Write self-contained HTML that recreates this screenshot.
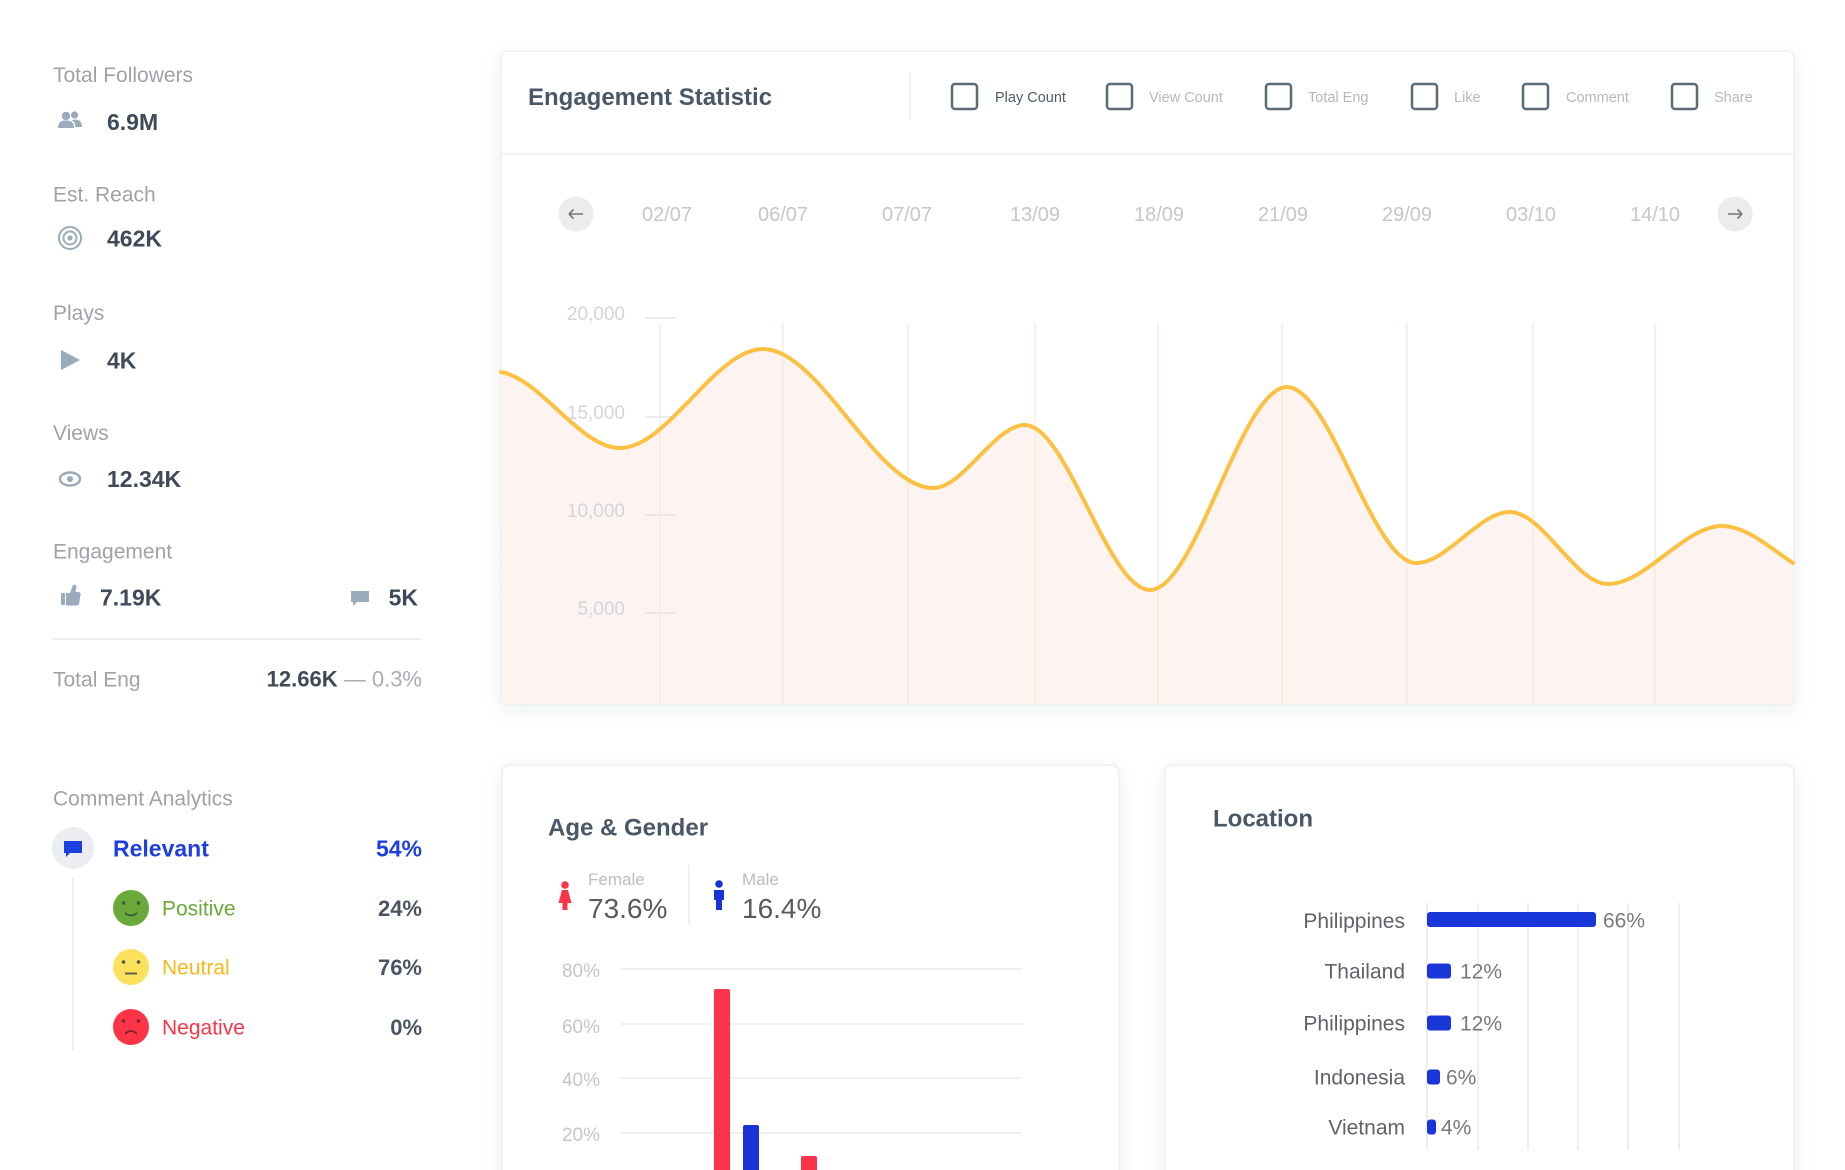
<!DOCTYPE html>
<html><head><meta charset="utf-8"><style>
html,body{margin:0;padding:0;background:#fff;width:1845px;height:1170px;overflow:hidden;}
svg{display:block;overflow:hidden;}
text{font-family:"Liberation Sans",Arial,sans-serif;}
</style></head><body>
<svg width="1845" height="1170" viewBox="0 0 1845 1170" xmlns="http://www.w3.org/2000/svg">
<defs>
<filter id="sh" x="-5%" y="-5%" width="110%" height="115%">
<feDropShadow dx="0" dy="5" stdDeviation="9" flood-color="#1e3246" flood-opacity="0.07"/>
</filter>
<clipPath id="frame"><rect x="0" y="0" width="1845" height="1170"/></clipPath>
</defs>
<g clip-path="url(#frame)">
<rect width="1845" height="1170" fill="#fff"/>

<!-- LEFT PANEL -->
<g fill="#9ea3a8" font-size="21">
<text x="53" y="82">Total Followers</text>
<text x="53" y="201.5">Est. Reach</text>
<text x="53" y="320">Plays</text>
<text x="53" y="440">Views</text>
<text x="53" y="558.5">Engagement</text>
<text x="53" y="686.5">Total Eng</text>
<text x="53" y="805.5">Comment Analytics</text>
</g>
<g fill="#3f4a59" font-size="23" font-weight="bold">
<text x="107" y="130">6.9M</text>
<text x="107" y="246.3">462K</text>
<text x="107" y="368.3">4K</text>
<text x="107" y="487">12.34K</text>
<text x="100" y="605.3">7.19K</text>
<text x="418" y="605.3" text-anchor="end">5K</text>
</g>
<!-- icons -->
<g fill="#9aabbd">
<circle cx="66" cy="116" r="4.2"/><circle cx="74.5" cy="115" r="3.6"/>
<path d="M58 128 Q58 120 66 120.5 Q74 120 74 128 Z"/>
<path d="M75 127 L82 127 Q82 120 75.5 119.5 Q73 119.6 72 120.5 Q76 122.5 75 127 Z"/>
<polygon points="61,350 80,360 61,370"/>
<circle cx="70" cy="479" r="3"/>
<rect x="61" y="593" width="4" height="12" rx="1"/>
<path d="M66 593 L70 593 L73 585 Q76 584 76.5 587 L75.5 592 L79 592 Q81 593 80.5 595 L79 604 Q78.5 605.5 77 605.5 L66 605.5 Z"/>
<path d="M351 591 L369 591 L369 602 L357 602 L353 606 L353 602 L351 602 Z"/>
</g>
<g fill="none" stroke="#9aabbd" stroke-width="2">
<circle cx="70" cy="238" r="11"/><circle cx="70" cy="238" r="6.5"/>
<ellipse cx="70" cy="479" rx="10" ry="6.5" stroke-width="2.4"/>
</g>
<circle cx="70" cy="238" r="2.6" fill="#9aabbd"/>
<line x1="52" y1="639" x2="421" y2="639" stroke="#e5e8eb" stroke-width="1.5"/>
<text x="422" y="686.5" text-anchor="end" font-size="22"><tspan font-weight="bold" fill="#3f4a59">12.66K</tspan><tspan fill="#a9adb2"> — 0.3%</tspan></text>

<!-- comment analytics -->
<circle cx="73" cy="848" r="21" fill="#ebedf0"/>
<path d="M64 841 L82 841 L82 853 L70 853 L66 857 L66 853 L64 853 Z" fill="#1d3fe0"/>
<text x="113" y="856.3" font-size="23" font-weight="bold" fill="#1d3fe0">Relevant</text>
<text x="422" y="856.3" font-size="23" font-weight="bold" fill="#1d3fe0" text-anchor="end">54%</text>
<line x1="73" y1="878" x2="73" y2="1050" stroke="#e6e8eb" stroke-width="1.5"/>

<circle cx="131" cy="908" r="18" fill="#6aaa3a"/>
<circle cx="123.5" cy="903" r="1.8" fill="#3f5a3a"/><circle cx="138.5" cy="903" r="1.8" fill="#3f5a3a"/>
<path d="M125 913 Q131 918 137 913" fill="none" stroke="#3f5a3a" stroke-width="1.8"/>
<text x="162" y="915.5" font-size="21" fill="#6aaa3a">Positive</text>
<text x="422" y="916" font-size="22" font-weight="bold" fill="#4a5563" text-anchor="end">24%</text>

<circle cx="131" cy="967" r="18" fill="#fbe15c"/>
<circle cx="123.5" cy="962" r="1.8" fill="#555"/><circle cx="138.5" cy="962" r="1.8" fill="#555"/>
<line x1="125" y1="973.5" x2="137" y2="973.5" stroke="#555" stroke-width="1.8"/>
<text x="162" y="974.5" font-size="21" fill="#f8b818">Neutral</text>
<text x="422" y="975" font-size="22" font-weight="bold" fill="#4a5563" text-anchor="end">76%</text>

<circle cx="131" cy="1027" r="18" fill="#fd3448"/>
<circle cx="123.5" cy="1021" r="1.8" fill="#7a2630"/><circle cx="138.5" cy="1021" r="1.8" fill="#7a2630"/>
<path d="M125 1034 Q131 1028 137 1034" fill="none" stroke="#7a2630" stroke-width="1.8"/>
<text x="162" y="1034.5" font-size="21" fill="#fd3448">Negative</text>
<text x="422" y="1035" font-size="22" font-weight="bold" fill="#4a5563" text-anchor="end">0%</text>

<!-- ENGAGEMENT CARD -->
<rect x="501" y="51" width="1293" height="654" rx="7" fill="#fff" stroke="#eceef1" stroke-width="1.5" filter="url(#sh)"/>
<text x="528" y="105" font-size="24" font-weight="bold" fill="#4a5766">Engagement Statistic</text>
<line x1="910" y1="73" x2="910" y2="119" stroke="#e8eaed" stroke-width="1.5"/>
<g fill="none" stroke="#5d6b79" stroke-width="2.5">
<rect x="952" y="84" width="25" height="25" rx="3"/>
<rect x="1107" y="84" width="25" height="25" rx="3"/>
<rect x="1266" y="84" width="25" height="25" rx="3"/>
<rect x="1412" y="84" width="25" height="25" rx="3"/>
<rect x="1523" y="84" width="25" height="25" rx="3"/>
<rect x="1672" y="84" width="25" height="25" rx="3"/>
</g>
<g font-size="14.5" fill="#b5b9be">
<text x="995" y="102" fill="#4f5b67">Play Count</text>
<text x="1149" y="102">View Count</text>
<text x="1308" y="102">Total Eng</text>
<text x="1454" y="102">Like</text>
<text x="1566" y="102">Comment</text>
<text x="1714" y="102">Share</text>
</g>
<line x1="502" y1="154" x2="1793" y2="154" stroke="#edeff1" stroke-width="1.5"/>

<circle cx="576" cy="214" r="17.5" fill="#ececee"/>
<circle cx="1735" cy="214" r="17.5" fill="#ececee"/>
<g stroke="#777" stroke-width="1.6" fill="none">
<path d="M569 214 L583 214 M569 214 L573.5 209.5 M569 214 L573.5 218.5"/>
<path d="M1728 214 L1742 214 M1742 214 L1737.5 209.5 M1742 214 L1737.5 218.5"/>
</g>
<g font-size="20" fill="#c3c7cc" text-anchor="middle">
<text x="667" y="221">02/07</text>
<text x="783" y="221">06/07</text>
<text x="907" y="221">07/07</text>
<text x="1035" y="221">13/09</text>
<text x="1159" y="221">18/09</text>
<text x="1283" y="221">21/09</text>
<text x="1407" y="221">29/09</text>
<text x="1531" y="221">03/10</text>
<text x="1655" y="221">14/10</text>
</g>

<!-- area -->
<path d="M501 372 C541 379 580 448 620 448 C667.7 448 715.3 349 763 349 C819.7 349 876.3 488 933 488 C963.7 488 994.3 425 1025 425 C1066.7 425 1108.3 590 1150 590 C1195.7 590 1241.3 387 1287 387 C1330 387 1373 563 1416 563 C1447.3 563 1478.7 512 1510 512 C1542.7 512 1575.3 584 1608 584 C1646 584 1684 526 1722 526 C1746 526 1769 547 1793 563 L1793 704 L502 704 Z" fill="#fdf4f2"/>
<g stroke="#fbe4d9" stroke-width="1.2">
<line x1="660" y1="323" x2="660" y2="704"/>
<line x1="783" y1="323" x2="783" y2="704"/>
<line x1="908" y1="323" x2="908" y2="704"/>
<line x1="1035" y1="323" x2="1035" y2="704"/>
<line x1="1158" y1="323" x2="1158" y2="704"/>
<line x1="1282" y1="323" x2="1282" y2="704"/>
<line x1="1407" y1="323" x2="1407" y2="704"/>
<line x1="1533" y1="323" x2="1533" y2="704"/>
<line x1="1655" y1="323" x2="1655" y2="704"/>
</g>
<g font-size="19" fill="#d3d5d8" text-anchor="end">
<text x="625" y="320">20,000</text>
<text x="625" y="419">15,000</text>
<text x="625" y="517">10,000</text>
<text x="625" y="615">5,000</text>
</g>
<g stroke="#e4e5e8" stroke-width="1.5">
<line x1="645" y1="318" x2="676" y2="318"/>
<line x1="645" y1="417" x2="676" y2="417"/>
<line x1="645" y1="515" x2="676" y2="515"/>
<line x1="645" y1="613" x2="676" y2="613"/>
</g>
<path d="M501 372 C541 379 580 448 620 448 C667.7 448 715.3 349 763 349 C819.7 349 876.3 488 933 488 C963.7 488 994.3 425 1025 425 C1066.7 425 1108.3 590 1150 590 C1195.7 590 1241.3 387 1287 387 C1330 387 1373 563 1416 563 C1447.3 563 1478.7 512 1510 512 C1542.7 512 1575.3 584 1608 584 C1646 584 1684 526 1722 526 C1746 526 1769 547 1793 563" fill="none" stroke="#fcc043" stroke-width="4" stroke-linecap="round"/>

<!-- AGE & GENDER CARD -->
<rect x="502" y="765" width="617" height="420" rx="7" fill="#fff" stroke="#eceef1" stroke-width="1.5" filter="url(#sh)"/>
<text x="548" y="835.6" font-size="24" font-weight="bold" fill="#4a5766">Age &amp; Gender</text>
<g fill="#fd3448">
<circle cx="565" cy="885" r="3.8"/>
<path d="M562 890 L568 890 L571.5 903 L567.5 903 L567.5 910 L562.5 910 L562.5 903 L558.5 903 Z"/>
</g>
<g fill="#1933d4">
<circle cx="719" cy="884" r="3.8"/>
<path d="M714 890 L724 890 L724 900 L722 900 L722 910 L716 910 L716 900 L714 900 Z"/>
</g>
<text x="588" y="885" font-size="17" fill="#b9bdc2">Female</text>
<text x="588" y="918" font-size="28" fill="#5a5a5a">73.6%</text>
<line x1="689" y1="865" x2="689" y2="925" stroke="#e8eaed" stroke-width="1.5"/>
<text x="742" y="885" font-size="17" fill="#b9bdc2">Male</text>
<text x="742" y="918" font-size="28" fill="#5a5a5a">16.4%</text>
<g font-size="19" fill="#c3c6ca" text-anchor="end">
<text x="600" y="977">80%</text>
<text x="600" y="1033">60%</text>
<text x="600" y="1086">40%</text>
<text x="600" y="1141">20%</text>
</g>
<g stroke="#ebebeb" stroke-width="1.5">
<line x1="621" y1="969" x2="1022" y2="969"/>
<line x1="621" y1="1024" x2="1022" y2="1024"/>
<line x1="621" y1="1078" x2="1022" y2="1078"/>
<line x1="621" y1="1133" x2="1022" y2="1133"/>
</g>
<rect x="714" y="989" width="16" height="190" rx="2" fill="#fd3349"/>
<rect x="743" y="1125" width="16" height="54" rx="2" fill="#1933d4"/>
<rect x="801" y="1156" width="16" height="23" rx="2" fill="#fd3349"/>

<!-- LOCATION CARD -->
<rect x="1165" y="765" width="629" height="420" rx="7" fill="#fff" stroke="#eceef1" stroke-width="1.5" filter="url(#sh)"/>
<text x="1213" y="826.6" font-size="24" font-weight="bold" fill="#4a5766">Location</text>
<g stroke="#e8e8e8" stroke-width="1.5">
<line x1="1427" y1="903" x2="1427" y2="1150"/>
<line x1="1478" y1="903" x2="1478" y2="1150"/>
<line x1="1528" y1="903" x2="1528" y2="1150"/>
<line x1="1578" y1="903" x2="1578" y2="1150"/>
<line x1="1628" y1="903" x2="1628" y2="1150"/>
<line x1="1679" y1="903" x2="1679" y2="1150"/>
</g>
<g font-size="21" fill="#5f6368" text-anchor="end">
<text x="1405" y="928">Philippines</text>
<text x="1405" y="978.5">Thailand</text>
<text x="1405" y="1030.5">Philippines</text>
<text x="1405" y="1084.5">Indonesia</text>
<text x="1405" y="1134.5">Vietnam</text>
</g>
<g fill="#1936d8">
<rect x="1427" y="912" width="169" height="15" rx="3"/>
<rect x="1427" y="963.5" width="24" height="15" rx="3"/>
<rect x="1427" y="1015.5" width="24" height="15" rx="3"/>
<rect x="1427" y="1069.5" width="13" height="15" rx="3"/>
<rect x="1427" y="1119.5" width="9" height="15" rx="3"/>
</g>
<g font-size="21" fill="#7a7a7a">
<text x="1603" y="927.5">66%</text>
<text x="1460" y="978.5">12%</text>
<text x="1460" y="1030.5">12%</text>
<text x="1446" y="1084.5">6%</text>
<text x="1441" y="1134.5">4%</text>
</g>
</g>
</svg>
</body></html>
